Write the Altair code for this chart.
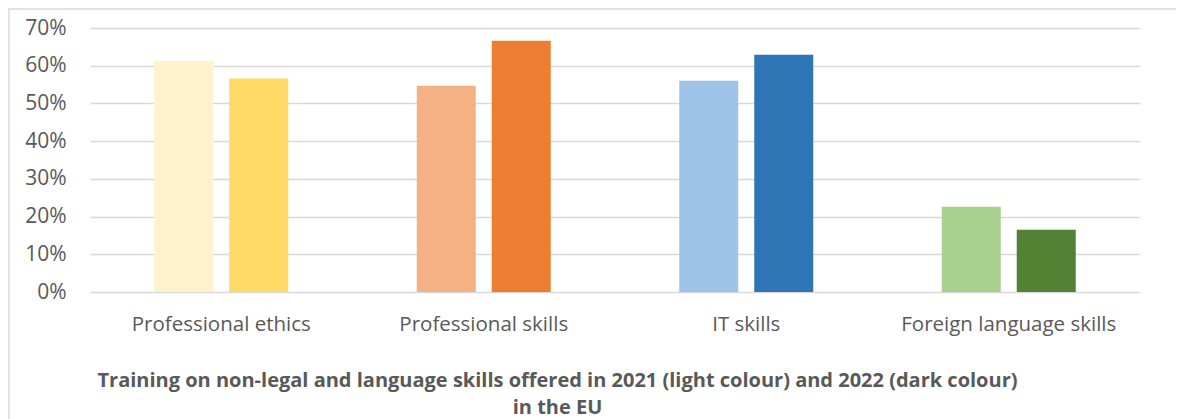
import altair as alt
import pandas as pd

categories = ["Professional ethics", "Professional skills", "IT skills", "Foreign language skills"]
years = ["2021", "2022"]
share_2021 = [0.613, 0.547, 0.560, 0.226]
share_2022 = [0.566, 0.666, 0.629, 0.165]
colors_2021 = ["#FFF2CC", "#F4B183", "#9DC3E6", "#A9D18E"]
colors_2022 = ["#FFD966", "#ED7D31", "#2E75B6", "#548235"]
y_ticks = [0, 0.1, 0.2, 0.3, 0.4, 0.5, 0.6, 0.7]
title_lines = [
    "Training on non-legal and language skills offered in 2021 (light colour) and 2022 (dark colour)",
    "in the EU",
]

rows = []
keys, key_colors = [], []
for i, cat in enumerate(categories):
    for yr, vals, cols in (("2021", share_2021, colors_2021), ("2022", share_2022, colors_2022)):
        key = f"{cat} {yr}"
        rows.append({"category": cat, "year": yr, "share": vals[i], "key": key})
        keys.append(key)
        key_colors.append(cols[i])
df = pd.DataFrame(rows)

FONT = "Open Sans"
TEXT = "#595959"
GRID = "#D9D9D9"

bars = alt.Chart(df).mark_bar().encode(
    x=alt.X(
        "category:N",
        sort=categories,
        scale=alt.Scale(paddingInner=0, paddingOuter=0),
        axis=alt.Axis(
            labelAngle=0,
            labelFont=FONT,
            labelFontSize=20.5,
            labelColor=TEXT,
            labelPadding=22,
            labelBaseline="top",
            labelLimit=0,
            ticks=False,
            domain=False,
            grid=False,
            title=title_lines,
            titleFont=FONT,
            titleFontSize=20,
            titleFontWeight="bold",
            titleColor=TEXT,
            titleAlign="center",
            titleBaseline="alphabetic",
            titleX=467,
            titleY=94,
            titleLineHeight=27,
            titleAnchor="start",
        ),
    ),
    xOffset=alt.XOffset(
        "year:N",
        sort=years,
        scale=alt.Scale(paddingInner=0.2133, paddingOuter=0.8567),
    ),
    y=alt.Y(
        "share:Q",
        scale=alt.Scale(domain=[0, 0.7], nice=False),
        axis=alt.Axis(
            values=y_ticks,
            format=".0%",
            labelFont=FONT,
            labelFontSize=21,
            labelColor=TEXT,
            labelPadding=24,
            ticks=False,
            domain=False,
            gridColor=GRID,
            gridWidth=1.5,
            title=None,
        ),
    ),
    color=alt.Color("key:N", scale=alt.Scale(domain=keys, range=key_colors), legend=None),
)

border_df = pd.DataFrame({"k": [0]})
top_border = alt.Chart(border_df).mark_rule(color=GRID, strokeWidth=1.5).encode(
    x=alt.value(-82), x2=alt.value(1086), y=alt.value(-19)
)
left_border = alt.Chart(border_df).mark_rule(color=GRID, strokeWidth=1.5).encode(
    x=alt.value(-81), y=alt.value(-19), y2=alt.value(391)
)

chart = alt.layer(top_border, left_border, bars).properties(
    width=1050,
    height=264,
    padding={"left": 82, "top": 20, "right": 36, "bottom": 127},
    autosize=alt.AutoSizeParams(type="none"),
).configure_view(stroke=None)

chart.save("out.html", embed_options={"renderer": "svg", "actions": False})
